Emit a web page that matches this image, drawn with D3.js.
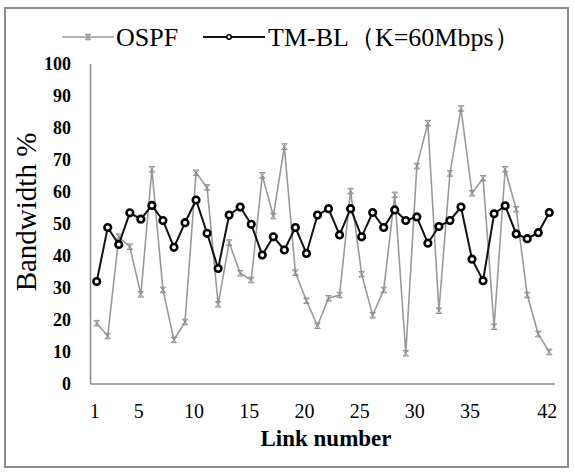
<!DOCTYPE html>
<html>
<head>
<meta charset="utf-8">
<script src="https://cdn.jsdelivr.net/npm/d3@7"></script>
<style>
  body { margin: 0; background: #fff; }
  svg { display: block; }
  svg text { font-family: "Liberation Serif", "Times New Roman", "DejaVu Serif", serif; }
</style>
</head>
<body>
<svg id="chart" width="574" height="473"></svg>
<script>
// link numbers 1..42
var links = [ 1, 2, 3, 4, 5, 6, 7, 8, 9, 10, 11, 12, 13, 14, 15, 16, 17, 18, 19, 20, 21,
    22, 23, 24, 25, 26, 27, 28, 29, 30, 31, 32, 33, 34, 35, 36, 37, 38, 39, 40, 41, 42 ];

var ospf = [ 19.0, 15.0, 46.0, 42.9, 28.0, 67.1, 29.4, 13.8, 19.4, 66.0, 61.4, 24.9, 44.2, 34.6,
    32.5, 65.2, 52.5, 74.2, 34.8, 26.0, 18.2, 26.8, 27.8, 60.3, 34.3, 21.5, 29.4, 59.1,
    9.6, 68.1, 81.5, 22.9, 65.8, 86.1, 59.6, 64.3, 17.9, 67.1, 54.6, 27.8, 15.6, 10.0 ];

var tmbl = [ 32.0, 48.9, 43.6, 53.5, 51.5, 55.8, 51.1, 42.7, 50.4, 57.5, 47.1, 36.1, 52.8, 55.3,
    49.9, 40.3, 46.0, 41.9, 48.9, 40.8, 52.8, 54.8, 46.6, 54.8, 46.0, 53.6, 48.9, 54.4,
    51.1, 52.2, 44.0, 49.2, 51.1, 55.3, 39.0, 32.3, 53.2, 55.7, 46.9, 45.4, 47.3, 53.6 ];

var xTicks = [ 1, 5, 10, 15, 20, 25, 30, 35, 42 ];
var yTicks = [ 0, 10, 20, 30, 40, 50, 60, 70, 80, 90, 100 ];

var seriesNames = [ "OSPF", "TM-BL（K=60Mbps）" ];

var serif = "'Liberation Serif', 'Times New Roman', 'DejaVu Serif', serif";

var svg = d3.select( "#chart" );

// outer frame
svg.append( "rect" )
    .attr( "x", 5 ).attr( "y", 8 )
    .attr( "width", 563 ).attr( "height", 459 )
    .attr( "fill", "none" )
    .attr( "stroke", "#8c8c8c" )
    .attr( "stroke-width", 2 );

var x = d3.scaleLinear().domain( [ 1, 42 ] ).range( [ 96.7, 549.3 ] );
var y = d3.scaleLinear().domain( [ 0, 100 ] ).range( [ 384, 64 ] );

// axis lines
svg.append( "line" )
    .attr( "x1", 90.5 ).attr( "x2", 90.5 )
    .attr( "y1", y( 100 ) ).attr( "y2", y( 0 ) )
    .attr( "stroke", "#8a8a8a" ).attr( "stroke-width", 1.5 );
svg.append( "line" )
    .attr( "x1", 90.5 ).attr( "x2", 555 )
    .attr( "y1", y( 0 ) ).attr( "y2", y( 0 ) )
    .attr( "stroke", "#8a8a8a" ).attr( "stroke-width", 1.5 );

var yAxis = svg.append( "g" )
    .attr( "transform", "translate(71,0)" )
    .call( d3.axisLeft( y ).tickValues( yTicks ).tickSize( 0 ).tickPadding( 0 ) );
yAxis.attr( "font-family", null );
yAxis.select( ".domain" ).remove();
yAxis.selectAll( "text" )
    .style( "font-family", serif )
    .style( "font-size", "18px" )
    .style( "font-weight", "bold" )
    .attr( "fill", "#000" );

var xAxis = svg.append( "g" )
    .attr( "transform", "translate(-2.5," + y( 0 ) + ")" )
    .call( d3.axisBottom( x ).tickValues( xTicks ).tickSize( 0 ).tickPadding( 20 ) );
xAxis.attr( "font-family", null );
xAxis.select( ".domain" ).remove();
xAxis.selectAll( "text" )
    .style( "font-family", serif )
    .style( "font-size", "20px" )
    .attr( "fill", "#000" );

// axis titles
svg.append( "text" )
    .attr( "transform", "translate(36,212) rotate(-90)" )
    .attr( "text-anchor", "middle" )
    .style( "font-family", serif )
    .style( "font-size", "29px" )
    .text( "Bandwidth %" );

svg.append( "text" )
    .attr( "x", 326 ).attr( "y", 446 )
    .attr( "text-anchor", "middle" )
    .style( "font-family", serif )
    .style( "font-size", "23px" )
    .style( "font-weight", "bold" )
    .text( "Link number" );

var line = d3.line()
    .x( function ( d, i ) { return x( links[ i ] ); } )
    .y( function ( d ) { return y( d ); } );

// star marker path (x with vertical stroke), size s
function starPath( s ) {
    return "M" + -s + "," + -s + "L" + s + "," + s +
        "M" + -s + "," + s + "L" + s + "," + -s +
        "M0," + -s + "L0," + s +
        "M" + -s + "," + -s + "L" + s + "," + -s +
        "M" + -s + "," + s + "L" + s + "," + s;
}

// OSPF
svg.append( "path" )
    .datum( ospf )
    .attr( "d", line )
    .attr( "fill", "none" )
    .attr( "stroke", "#9a9a9a" )
    .attr( "stroke-width", 1.6 );

svg.selectAll( ".ospf-mark" )
    .data( ospf )
    .enter()
    .append( "path" )
    .attr( "class", "ospf-mark" )
    .attr( "d", starPath( 2.8 ) )
    .attr( "transform", function ( d, i ) {
        return "translate(" + x( links[ i ] ) + "," + y( d ) + ")";
    } )
    .attr( "fill", "none" )
    .attr( "stroke", "#8e8e8e" )
    .attr( "stroke-width", 1 );

// TM-BL
svg.append( "path" )
    .datum( tmbl )
    .attr( "d", line )
    .attr( "fill", "none" )
    .attr( "stroke", "#111" )
    .attr( "stroke-width", 2 );

svg.selectAll( ".tmbl-mark" )
    .data( tmbl )
    .enter()
    .append( "circle" )
    .attr( "class", "tmbl-mark" )
    .attr( "cx", function ( d, i ) { return x( links[ i ] ); } )
    .attr( "cy", function ( d ) { return y( d ); } )
    .attr( "r", 3.3 )
    .attr( "fill", "#fff" )
    .attr( "stroke", "#000" )
    .attr( "stroke-width", 2.6 );

// legend
var legend = svg.append( "g" ).attr( "transform", "translate(0,37)" );

legend.append( "line" )
    .attr( "x1", 62 ).attr( "x2", 114 )
    .attr( "stroke", "#9a9a9a" ).attr( "stroke-width", 1.6 );
legend.append( "path" )
    .attr( "d", starPath( 2.8 ) )
    .attr( "transform", "translate(88,0)" )
    .attr( "fill", "none" ).attr( "stroke", "#8e8e8e" ).attr( "stroke-width", 1 );
legend.append( "text" )
    .attr( "x", 116 ).attr( "y", 8.5 )
    .style( "font-family", serif )
    .style( "font-size", "26px" )
    .text( seriesNames[ 0 ] );

legend.append( "line" )
    .attr( "x1", 203 ).attr( "x2", 265 )
    .attr( "stroke", "#111" ).attr( "stroke-width", 2 );
legend.append( "circle" )
    .attr( "cx", 229 ).attr( "cy", 0 ).attr( "r", 2.2 )
    .attr( "fill", "#fff" ).attr( "stroke", "#000" ).attr( "stroke-width", 1.6 );
legend.append( "text" )
    .attr( "x", 268 ).attr( "y", 8.5 )
    .style( "font-family", serif )
    .style( "font-size", "26px" )
    .text( seriesNames[ 1 ] );
</script>
</body>
</html>
